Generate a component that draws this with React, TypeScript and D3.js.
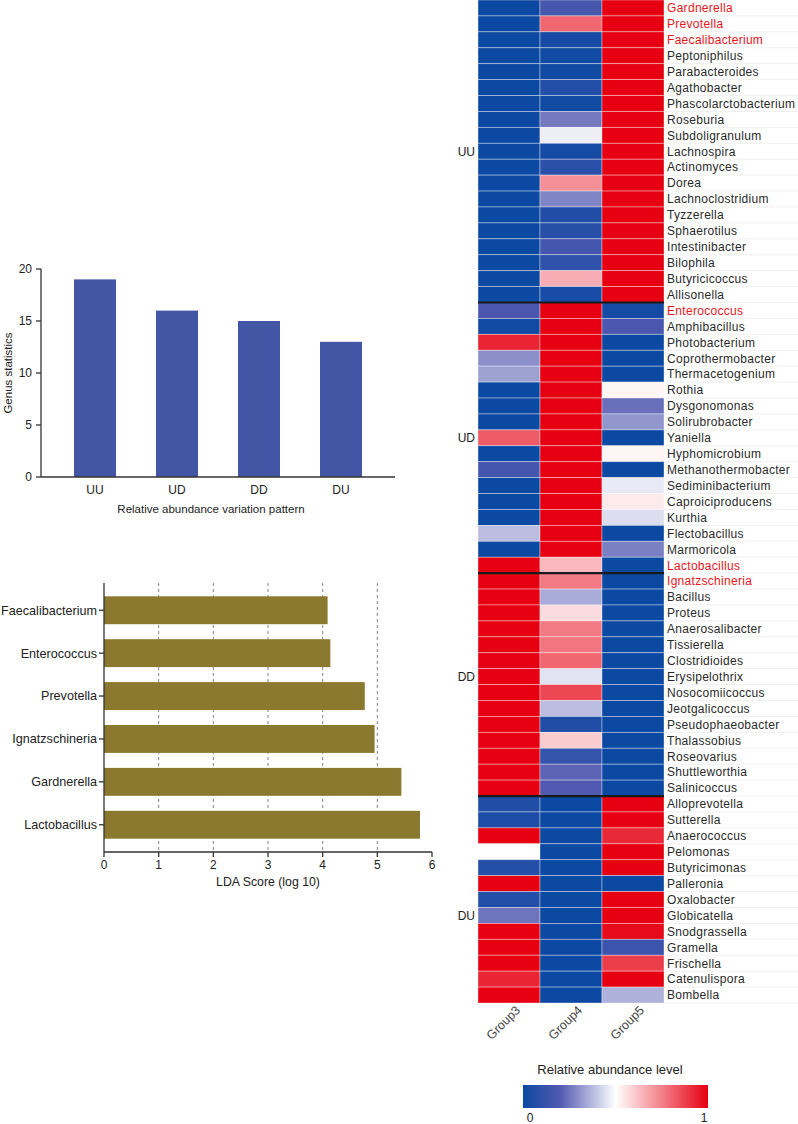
import React from "react";
import * as d3 from "d3";

// ---------- Data ----------
const patternCats = ["UU", "UD", "DD", "DU"];
const patternCounts = [19, 16, 15, 13];
const patternTicks = [0, 5, 10, 15, 20];

const ldaGenera = ["Faecalibacterium", "Enterococcus", "Prevotella", "Ignatzschineria", "Gardnerella", "Lactobacillus"];
const ldaScores = [4.09, 4.14, 4.77, 4.95, 5.44, 5.78];
const ldaTicks = [0, 1, 2, 3, 4, 5, 6];

const heatGroups = ["Group3", "Group4", "Group5"];
const blockNames = ["UU", "UD", "DD", "DU"];

const uuGenera = ["Gardnerella", "Prevotella", "Faecalibacterium", "Peptoniphilus", "Parabacteroides", "Agathobacter", "Phascolarctobacterium", "Roseburia", "Subdoligranulum", "Lachnospira", "Actinomyces", "Dorea", "Lachnoclostridium", "Tyzzerella", "Sphaerotilus", "Intestinibacter", "Bilophila", "Butyricicoccus", "Allisonella"];
const uuValues = [
  [0, 0.17, 1], [0, 0.8, 1], [0, 0.03, 1], [0, 0.02, 1], [0, 0.02, 1], [0, 0.07, 1], [0, 0.02, 1], [0, 0.26, 1], [0, 0.47, 1], [0, 0.03, 1],
  [0, 0.09, 1], [0, 0.72, 1], [0, 0.28, 1], [0, 0.06, 1], [0, 0.08, 1], [0, 0.16, 1], [0, 0.1, 1], [0, 0.66, 1], [0, 0.04, 1],
];
const udGenera = ["Enterococcus", "Amphibacillus", "Photobacterium", "Coprothermobacter", "Thermacetogenium", "Rothia", "Dysgonomonas", "Solirubrobacter", "Yaniella", "Hyphomicrobium", "Methanothermobacter", "Sediminibacterium", "Caproiciproducens", "Kurthia", "Flectobacillus", "Marmoricola", "Lactobacillus"];
const udValues = [
  [0.18, 1, 0.03], [0.02, 1, 0.18], [0.93, 1, 0], [0.3, 1, 0], [0.33, 1, 0], [0, 1, 0.52], [0, 1, 0.24], [0, 1, 0.31], [0.82, 1, 0],
  [0, 1, 0.52], [0.16, 1, 0], [0, 1, 0.46], [0, 1, 0.54], [0, 1, 0.44], [0.38, 1, 0], [0, 1, 0.27], [1, 0.64, 0],
];
const ddGenera = ["Ignatzschineria", "Bacillus", "Proteus", "Anaerosalibacter", "Tissierella", "Clostridioides", "Erysipelothrix", "Nosocomiicoccus", "Jeotgalicoccus", "Pseudophaeobacter", "Thalassobius", "Roseovarius", "Shuttleworthia", "Salinicoccus"];
const ddValues = [
  [1, 0.76, 0], [1, 0.35, 0], [1, 0.57, 0], [1, 0.76, 0], [1, 0.77, 0], [1, 0.8, 0], [1, 0.45, 0], [1, 0.86, 0], [1, 0.38, 0],
  [1, 0.06, 0], [1, 0.6, 0], [1, 0.12, 0], [1, 0.22, 0], [1, 0.2, 0],
];
const duGenera = ["Alloprevotella", "Sutterella", "Anaerococcus", "Pelomonas", "Butyricimonas", "Palleronia", "Oxalobacter", "Globicatella", "Snodgrassella", "Gramella", "Frischella", "Catenulispora", "Bombella"];
const duValues = [
  [0.06, 0, 1], [0.05, 0, 1], [1, 0, 0.92], [0.5, 0, 1], [0.07, 0, 1], [1, 0, 0], [0.07, 0, 1], [0.25, 0, 1], [1, 0, 0.98],
  [1, 0, 0.14], [1, 0, 0.88], [0.93, 0, 1], [1, 0, 0.36],
];
const highlighted = ["Gardnerella", "Prevotella", "Faecalibacterium", "Enterococcus", "Lactobacillus", "Ignatzschineria"];

// ---------- Layout ----------
const W = 798;
const H = 1124;
const FONT = "Liberation Sans, Arial, sans-serif";
const axisColor = "#333";
const blockLabelOffset = [9, 8, 6, 7];

export default function App() {
  const xBand = d3.scaleBand<string>().domain(patternCats).range([54, 382]).paddingInner(0.488).paddingOuter(0.244);
  const yLin = d3.scaleLinear().domain([0, 20]).range([477, 269]);

  const xL = d3.scaleLinear().domain([0, 6]).range([104, 432]);
  const yL = d3.scaleBand<string>().domain(ldaGenera).range([583, 852]).paddingInner(0.35).paddingOuter(0.31);

  const blocks = [
    { genera: uuGenera, values: uuValues },
    { genera: udGenera, values: udValues },
    { genera: ddGenera, values: ddValues },
    { genera: duGenera, values: duValues },
  ];
  const rows: { name: string; vals: number[]; block: number }[] = [];
  blocks.forEach((b, bi) => b.genera.forEach((g, i) => rows.push({ name: g, vals: b.values[i], block: bi })));
  const hx = d3.scaleBand<string>().domain(heatGroups).range([478, 664]);
  const hy = d3.scaleBand<number>().domain(d3.range(rows.length)).range([0, 1003]);
  const color = d3
    .scaleLinear<string>()
    .domain([0, 0.2, 0.5, 1])
    .range(["#0b49a3", "#5259b0", "#ffffff", "#e60012"])
    .interpolate(d3.interpolateRgb);

  const blockStarts: number[] = [];
  let acc = 0;
  blocks.forEach((b) => { blockStarts.push(acc); acc += b.genera.length; });

  const legendX = d3.scaleLinear().domain([0, 1]).range([523, 708]);
  const gradStops = d3.range(0, 1.0001, 0.05);

  return (
    <svg width={W} height={H} style={{ position: "absolute", left: 0, top: 0, background: "#fff" }} fontFamily={FONT}>
      <defs>
        <linearGradient id="legGrad" x1="0" x2="1" y1="0" y2="0">
          {gradStops.map((s) => (
            <stop key={s} offset={`${s * 100}%`} stopColor={color(s)} />
          ))}
        </linearGradient>
      </defs>

      {/* ---------- Top bar chart ---------- */}
      <g>
        {patternCats.map((c, i) => (
          <rect key={c} x={xBand(c)} y={yLin(patternCounts[i])} width={xBand.bandwidth()} height={yLin(0) - yLin(patternCounts[i])} fill="#4355a5" />
        ))}
        <line x1={41} x2={41} y1={yLin(20)} y2={yLin(0)} stroke={axisColor} strokeWidth={1.3} />
        <line x1={41} x2={395} y1={yLin(0)} y2={yLin(0)} stroke={axisColor} strokeWidth={1.3} />
        {patternTicks.map((t) => (
          <g key={t}>
            <line x1={36} x2={41} y1={yLin(t)} y2={yLin(t)} stroke={axisColor} strokeWidth={1.3} />
            <text x={32} y={yLin(t)} dy="0.35em" textAnchor="end" fontSize={12} fill="#222">{t}</text>
          </g>
        ))}
        {patternCats.map((c) => (
          <text key={c} x={(xBand(c) as number) + xBand.bandwidth() / 2} y={494} textAnchor="middle" fontSize={12} fill="#222">{c}</text>
        ))}
        <text x={211} y={513} textAnchor="middle" fontSize={11.5} fill="#222">Relative abundance variation pattern</text>
        <text transform={`translate(12,${yLin(10)}) rotate(-90)`} textAnchor="middle" fontSize={11.5} fill="#222">Genus statistics</text>
      </g>

      {/* ---------- LDA chart ---------- */}
      <g>
        {ldaTicks.filter((t) => t > 0 && t < 6).map((t) => (
          <line key={t} x1={xL(t)} x2={xL(t)} y1={583} y2={852} stroke="#777" strokeWidth={0.9} strokeDasharray="3,3" />
        ))}
        {ldaGenera.map((g, i) => (
          <rect key={g} x={xL(0)} y={yL(g)} width={xL(ldaScores[i]) - xL(0)} height={yL.bandwidth()} fill="#8a792f" />
        ))}
        <line x1={xL(0)} x2={xL(0)} y1={583} y2={852} stroke={axisColor} strokeWidth={1.3} />
        <line x1={xL(0)} x2={xL(6)} y1={852} y2={852} stroke={axisColor} strokeWidth={1.3} />
        {ldaTicks.map((t) => (
          <g key={t}>
            <line x1={xL(t)} x2={xL(t)} y1={852} y2={857} stroke={axisColor} strokeWidth={1.3} />
            <text x={xL(t)} y={869} textAnchor="middle" fontSize={12} fill="#222">{t}</text>
          </g>
        ))}
        {ldaGenera.map((g) => (
          <g key={g}>
            <line x1={99} x2={104} y1={(yL(g) as number) + yL.bandwidth() / 2} y2={(yL(g) as number) + yL.bandwidth() / 2} stroke={axisColor} strokeWidth={1.3} />
            <text x={97} y={(yL(g) as number) + yL.bandwidth() / 2} dy="0.35em" textAnchor="end" fontSize={12.6} fill="#222">{g}</text>
          </g>
        ))}
        <text x={xL(3)} y={886} textAnchor="middle" fontSize={12.3} fill="#222">LDA Score (log 10)</text>
      </g>

      {/* ---------- Heatmap ---------- */}
      <g>
        {rows.map((r, ri) => (
          <line key={`gl${ri}`} x1={664} x2={W} y1={(hy(ri) as number) + hy.bandwidth()} y2={(hy(ri) as number) + hy.bandwidth()} stroke="#ececec" strokeWidth={0.8} />
        ))}
        {rows.map((r, ri) =>
          r.vals.map((v, ci) => (
            <rect key={`c${ri}-${ci}`} x={hx(heatGroups[ci])} y={hy(ri)} width={hx.bandwidth()} height={hy.bandwidth()} fill={color(v)} stroke="rgba(255,255,255,0.45)" strokeWidth={0.8} />
          ))
        )}
        {blockStarts.slice(1).map((s) => (
          <line key={`sep${s}`} x1={478} x2={664} y1={hy(s)} y2={hy(s)} stroke="#1a1a1a" strokeWidth={2.2} />
        ))}
        {rows.map((r, ri) => (
          <text key={`rl${ri}`} x={667} y={(hy(ri) as number) + hy.bandwidth() / 2} dy="0.36em" fontSize={12} letterSpacing={0.3} fill={highlighted.includes(r.name) ? "#e8141c" : "#2a2a2a"}>{r.name}</text>
        ))}
        {blockNames.map((b, bi) => {
          const ri = blockStarts[bi] + blockLabelOffset[bi];
          return (
            <text key={b} x={475} y={(hy(ri) as number) + hy.bandwidth() / 2} dy="0.36em" textAnchor="end" fontSize={12} fill="#222">{b}</text>
          );
        })}
        {heatGroups.map((g) => (
          <text key={g} transform={`translate(${(hx(g) as number) + hx.bandwidth() / 2 + 12},1011) rotate(-45)`} textAnchor="end" fontSize={12.5} fill="#444">{g}</text>
        ))}
      </g>

      {/* ---------- Legend ---------- */}
      <g>
        <text x={610} y={1074} textAnchor="middle" fontSize={13} fill="#222">Relative abundance level</text>
        <rect x={legendX(0)} y={1085} width={legendX(1) - legendX(0)} height={23} fill="url(#legGrad)" />
        <text x={legendX(0) + 7} y={1122} textAnchor="middle" fontSize={12} fill="#222">0</text>
        <text x={legendX(1) - 4} y={1122} textAnchor="middle" fontSize={12} fill="#222">1</text>
      </g>
    </svg>
  );
}
